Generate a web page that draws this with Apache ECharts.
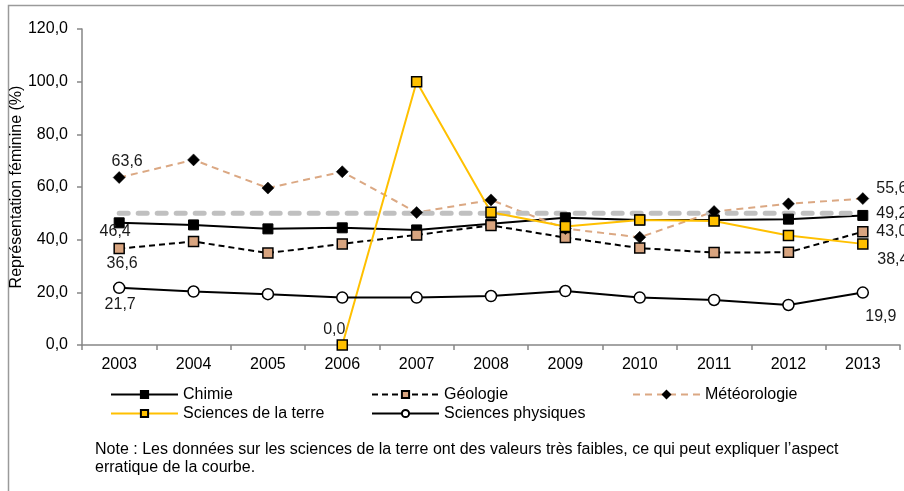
<!DOCTYPE html>
<html>
<head>
<meta charset="utf-8">
<script src="https://cdn.jsdelivr.net/npm/echarts@6/dist/echarts.min.js"></script>
<style>
  html, body { margin: 0; padding: 0; background: #fff; }
  #chart { width: 904px; height: 491px; }
</style>
</head>
<body>
<div id="chart"></div>
<script>
// valeurs
const years = ["2003", "2004", "2005", "2006", "2007", "2008", "2009", "2010", "2011", "2012", "2013"];
const chimie = [46.4, 45.6, 44.1, 44.5, 43.7, 46.0, 48.3, 47.5, 47.5, 47.8, 49.2];
const geologie = [36.6, 39.3, 34.9, 38.4, 41.8, 45.4, 40.8, 36.8, 35.1, 35.2, 43.0];
const meteorologie = [63.6, 70.3, 59.6, 65.8, 50.3, 55.1, 44.2, 40.9, 50.7, 53.6, 55.6];
const sciencesTerre = [null, null, null, 0.0, 100.0, 50.4, 45.0, 47.5, 47.1, 41.6, 38.4];
const sciencesPhysiques = [21.7, 20.3, 19.3, 18.0, 18.0, 18.6, 20.5, 18.0, 17.1, 15.2, 19.9];
const parite = [50, 50, 50, 50, 50, 50, 50, 50, 50, 50, 50];

const font = "Arial, 'Liberation Sans', sans-serif";
const fmt = (v) => v.toFixed(1).replace(".", ",");

// ajoute une étiquette aux points indiqués : {index: [dx, dy]}
const withLabels = (values, offsets) => values.map((v, i) => {
	if (offsets[i] === undefined || v === null) return v;
	return {
		value: v,
		label: {
			show: true,
			position: "inside",
			offset: offsets[i],
			formatter: () => fmt(v),
			color: "#1a1a1a",
			fontFamily: font,
			fontSize: 16
		}
	};
});

const chart = echarts.init(document.getElementById("chart"));

// une légende par colonne, pour aligner les colonnes comme dans l'original
const legendCol = (names, left) => ({
	data: names,
	orient: "vertical",
	left: left,
	top: 381,
	itemWidth: 67,
	itemHeight: 9,
	itemGap: 2,
	textStyle: { color: "#000", fontFamily: font, fontSize: 16, lineHeight: 17 }
});

chart.setOption({
	animation: false,
	graphic: [{
		type: "rect",
		shape: { x: 8.5, y: 5.5, width: 1000, height: 1000 },
		style: { fill: "none", stroke: "#9a9a9a", lineWidth: 1.5 },
		silent: true
	}, {
		type: "text",
		left: 95,
		top: 441,
		style: {
			text: "Note : Les données sur les sciences de la terre ont des valeurs très faibles, ce qui peut expliquer l’aspect\nerratique de la courbe.",
			fill: "#000",
			font: "16px " + font,
			lineHeight: 18
		}
	}],
	grid: { left: 82, right: 4, top: 29, bottom: 146, containLabel: false, outerBoundsMode: "none" },
	legend: [
		legendCol(["Chimie", "Sciences de la terre"], 105),
		legendCol(["Géologie", "Sciences physiques"], 366),
		legendCol(["Météorologie"], 627)
	],
	xAxis: {
		type: "category",
		data: years,
		boundaryGap: true,
		axisLine: { lineStyle: { color: "#868686", width: 1.5 } },
		axisTick: { show: true, length: 5, interval: 0, lineStyle: { color: "#868686", width: 1.5 } },
		axisLabel: { color: "#000", fontFamily: font, fontSize: 16, margin: 12, interval: 0 },
		splitLine: { show: false }
	},
	yAxis: {
		type: "value",
		min: 0,
		max: 120,
		interval: 20,
		name: "Représentation féminine (%)",
		nameLocation: "middle",
		nameGap: 57,
		nameMoveOverlap: false,
		nameTextStyle: { color: "#000", fontFamily: font, fontSize: 16 },
		axisLine: { show: true, lineStyle: { color: "#868686", width: 1.5 } },
		axisTick: { show: true, length: 5, lineStyle: { color: "#868686", width: 1.5 } },
		axisLabel: { color: "#000", fontFamily: font, fontSize: 16, margin: 14, formatter: fmt },
		splitLine: { show: false }
	},
	series: [{
		name: "Chimie",
		type: "line",
		data: withLabels(chimie, { 0: [-4, 9], 10: [29, -2] }),
		symbol: "rect",
		symbolSize: 10,
		lineStyle: { color: "#000", width: 2 },
		itemStyle: { color: "#000", borderColor: "#000", borderWidth: 1 }
	}, {
		name: "Géologie",
		type: "line",
		data: withLabels(geologie, { 0: [3, 15], 10: [29, 0] }),
		symbol: "rect",
		symbolSize: 10,
		lineStyle: { color: "#000", width: 2, type: [6, 4] },
		itemStyle: { color: "#d8a47f", borderColor: "#000", borderWidth: 1.5 }
	}, {
		name: "Météorologie",
		type: "line",
		data: withLabels(meteorologie, { 0: [8, -16], 10: [29, -10] }),
		symbol: "diamond",
		symbolSize: 12,
		lineStyle: { color: "#dba883", width: 2, type: [7, 5] },
		itemStyle: { color: "#000", borderColor: "#000", borderWidth: 0.5 }
	}, {
		name: "Parité",
		type: "line",
		data: parite,
		showSymbol: false,
		symbol: "none",
		lineStyle: { color: "#c0c0c0", width: 5, type: [9, 10], cap: "round" },
		itemStyle: { color: "#c0c0c0" }
	}, {
		name: "Sciences de la terre",
		type: "line",
		data: withLabels(sciencesTerre, { 3: [-8, -15], 10: [30, 16] }),
		symbol: "rect",
		symbolSize: 10,
		connectNulls: false,
		lineStyle: { color: "#ffc000", width: 2 },
		itemStyle: { color: "#ffc000", borderColor: "#000", borderWidth: 1.5 }
	}, {
		name: "Sciences physiques",
		type: "line",
		data: withLabels(sciencesPhysiques, { 0: [1, 17], 10: [18, 24] }),
		symbol: "circle",
		symbolSize: 11,
		lineStyle: { color: "#000", width: 2 },
		itemStyle: { color: "#fff", borderColor: "#000", borderWidth: 1.5 }
	}]
});
</script>
</body>
</html>
